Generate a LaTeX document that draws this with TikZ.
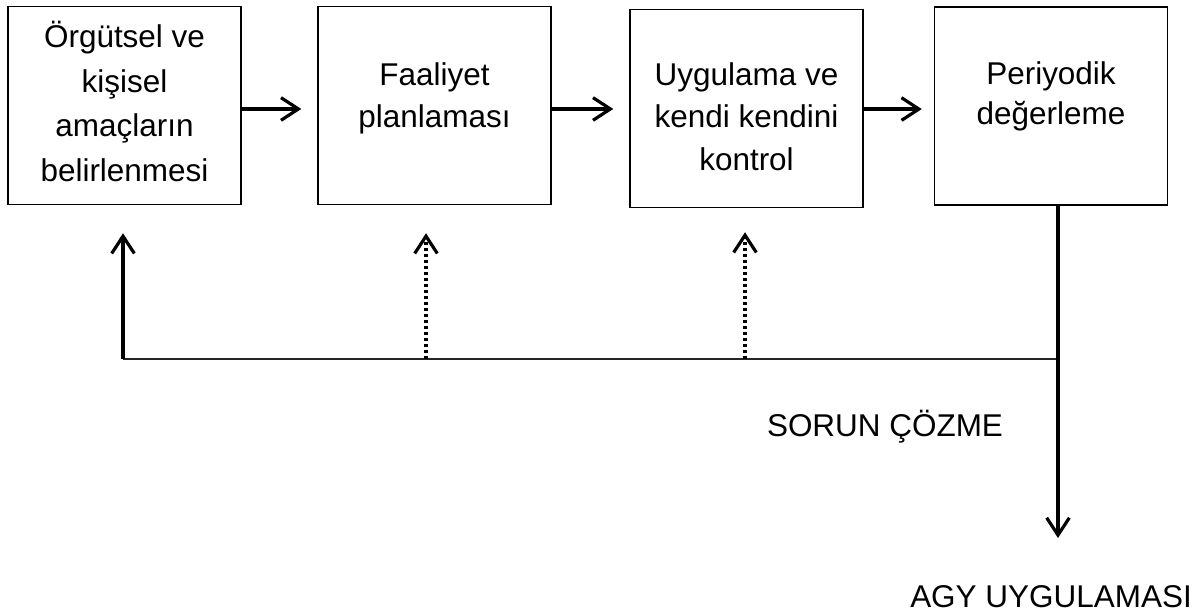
\documentclass[tikz,border=0pt]{standalone}
\usepackage{fontspec}
\setmainfont{Liberation Sans}
\usetikzlibrary{arrows.meta}
\begin{document}
\begin{tikzpicture}[x=0.75pt,y=-0.75pt,
  box/.style={draw=black, line width=1.1pt, minimum width=174.75pt, minimum height=148.5pt, inner sep=0pt},
  txt/.style={align=center, inner sep=0pt, font=\fontsize{23.6}{31.5}\selectfont},
  lbl/.style={inner sep=0pt, font=\fontsize{23.6}{31.5}\selectfont},
  arr/.style={line width=2.6pt, -{Straight Barb[length=13pt, width=17pt, line width=2.4pt]}},
  dotarr/.style={line width=2.4pt, dash pattern=on 2.2pt off 2.3pt, -{Straight Barb[length=13pt, width=17pt, line width=2.4pt]}},
  thin/.style={line width=1.1pt, draw=black!85}
]
\useasboundingbox (0,0) rectangle (1194,615);
% boxes
\node[box] (b1) at (124.5,105.5) {};
\node[box] (b2) at (434.5,105.5) {};
\node[box] (b3) at (746.5,108.5) {};
\node[box] (b4) at (1051,106) {};
% texts
\node[txt, anchor=north, font=\fontsize{23.6}{33.5}\selectfont] (t1) at (124.5,21) {Örgütsel ve\\kişisel\\amaçların\\belirlenmesi};
\node[txt, anchor=north] (t2) at (434.5,62) {Faaliyet\\planlaması};
\node[txt, anchor=north, font=\fontsize{23.6}{32}\selectfont] (t3) at (746.5,62) {Uygulama ve\\kendi kendini\\kontrol};
\node[txt, anchor=north, font=\fontsize{23.6}{30}\selectfont] (t4) at (1051,61) {Periyodik\\değerleme};
% arrows between boxes
\draw[arr, shorten >=12pt] ([yshift=-2.6pt]b1.east) -- ([yshift=-2.6pt]b1.east -| b2.west);
\draw[arr, shorten >=12pt] ([yshift=-2.6pt]b2.east) -- ([yshift=-2.6pt]b2.east -| b3.west);
\draw[arr, shorten >=9pt] ([yshift=-0.4pt]b3.east) -- ([yshift=-0.4pt]b3.east -| b4.west);
% feedback
\coordinate (h1) at (123,359);
\coordinate (h2) at (426,359);
\coordinate (h3) at (745,359);
\coordinate (h4) at (1058,359);
\coordinate (dn) at (1058,538);
\draw[thin] (h1) -- (h4);
\draw[arr, shorten >=21pt] (h1) -- (h1 |- b1.south);
\draw[dotarr, shorten >=21pt] (h2) -- (h2 |- b2.south);
\draw[dotarr, shorten >=18pt] (h3) -- (h3 |- b3.south);
\draw[arr] (h4 |- b4.south) -- (dn);
% labels
\node[lbl, anchor=base] (sc) at (885,436) {SORUN ÇÖZME};
\node[lbl, anchor=base] (agy) at (1051,607) {AGY UYGULAMASI};
\end{tikzpicture}
\end{document}
